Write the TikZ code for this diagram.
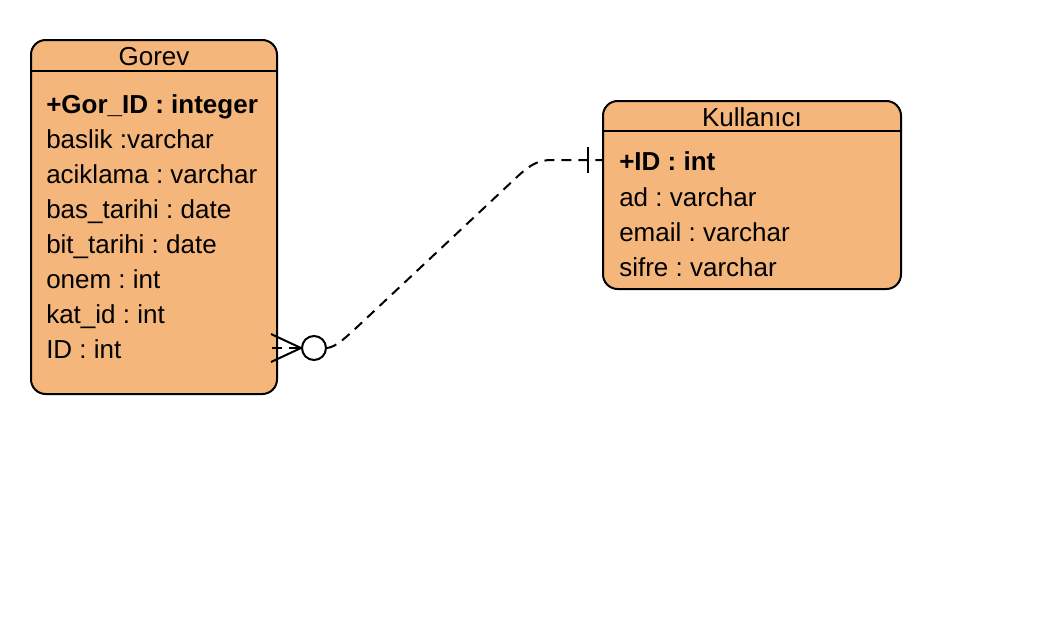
\documentclass[tikz,border=0pt]{standalone}
\usepackage{fontspec}
\setmainfont{Liberation Sans}
\frenchspacing
\definecolor{entityfill}{RGB}{244,182,123}
\tikzstyle{entity}=[draw, line width=1.5pt, fill=entityfill, rounded corners=11pt, inner sep=0pt]
\tikzstyle{title}=[anchor=base, inner sep=0pt, font=\fontsize{19.5}{23}\selectfont]
\tikzstyle{attr}=[anchor=base west, inner sep=0pt, font=\fontsize{19.5}{23}\selectfont]
\tikzstyle{line}=[line width=1.5pt]
\tikzstyle{relation}=[line width=1.5pt, dash pattern=on 7.5pt off 5.25pt]

\begin{document}
\begin{tikzpicture}[x=0.75pt, y=-0.75pt]
  \useasboundingbox (0, 0) rectangle (1042, 622);

  % Gorev
  \node[entity, minimum width=184.5pt, minimum height=265.5pt] (gorev) at (154, 217) {};
  \node[title] (gorevTitle) at (154, 65) {Gorev};
  \coordinate (gorevSep) at (154, 71);
  \draw[line] (gorev.west |- gorevSep) -- (gorev.east |- gorevSep);
  \node[attr] (gorId) at (46, 113) {\bfseries +Gor\_ID : integer};
  \node[attr] (baslik) at (46, 148) {baslik :varchar};
  \node[attr] (aciklama) at (46, 183) {aciklama : varchar};
  \node[attr] (basTarihi) at (46, 218) {bas\_tarihi : date};
  \node[attr] (bitTarihi) at (46, 253) {bit\_tarihi : date};
  \node[attr] (onem) at (46, 288) {onem : int};
  \node[attr] (katId) at (46, 323) {kat\_id : int};
  \node[attr] (gorevUserId) at (46, 358) {ID : int};

  % Kullanici
  \node[entity, minimum width=223.5pt, minimum height=141pt] (kullanici) at (752, 195) {};
  \node[title] (kullaniciTitle) at (752, 126) {Kullanıcı};
  \coordinate (kullaniciSep) at (752, 131);
  \draw[line] (kullanici.west |- kullaniciSep) -- (kullanici.east |- kullaniciSep);
  \node[attr] (userId) at (619, 170) {\bfseries +ID : int};
  \node[attr] (ad) at (619, 206) {ad : varchar};
  \node[attr] (email) at (619, 241) {email : varchar};
  \node[attr] (sifre) at (619, 276) {sifre : varchar};

  % relation
  \coordinate (manyEnd) at (277, 348);
  \coordinate (oneEnd) at (603, 160);
  \node[draw, circle, line width=1.5pt, fill=white, minimum size=18pt, inner sep=0pt] (optional) at (314, 348) {};
  \draw[line] (optional.west) ++(-30, -14) -- (optional.west) -- ++(-30, 14);
  \draw[relation] (manyEnd) ++(-5, 0) -- (optional.west);
  \draw[relation] (optional.east)
    .. controls (336, 347) and (345, 338) .. (355, 329)
    -- (518, 176)
    .. controls (531, 164) and (539, 160) .. (552, 160)
    -- (oneEnd);
  \draw[line] (oneEnd) ++(-15, -13) -- ++(0, 26);
\end{tikzpicture}
\end{document}
